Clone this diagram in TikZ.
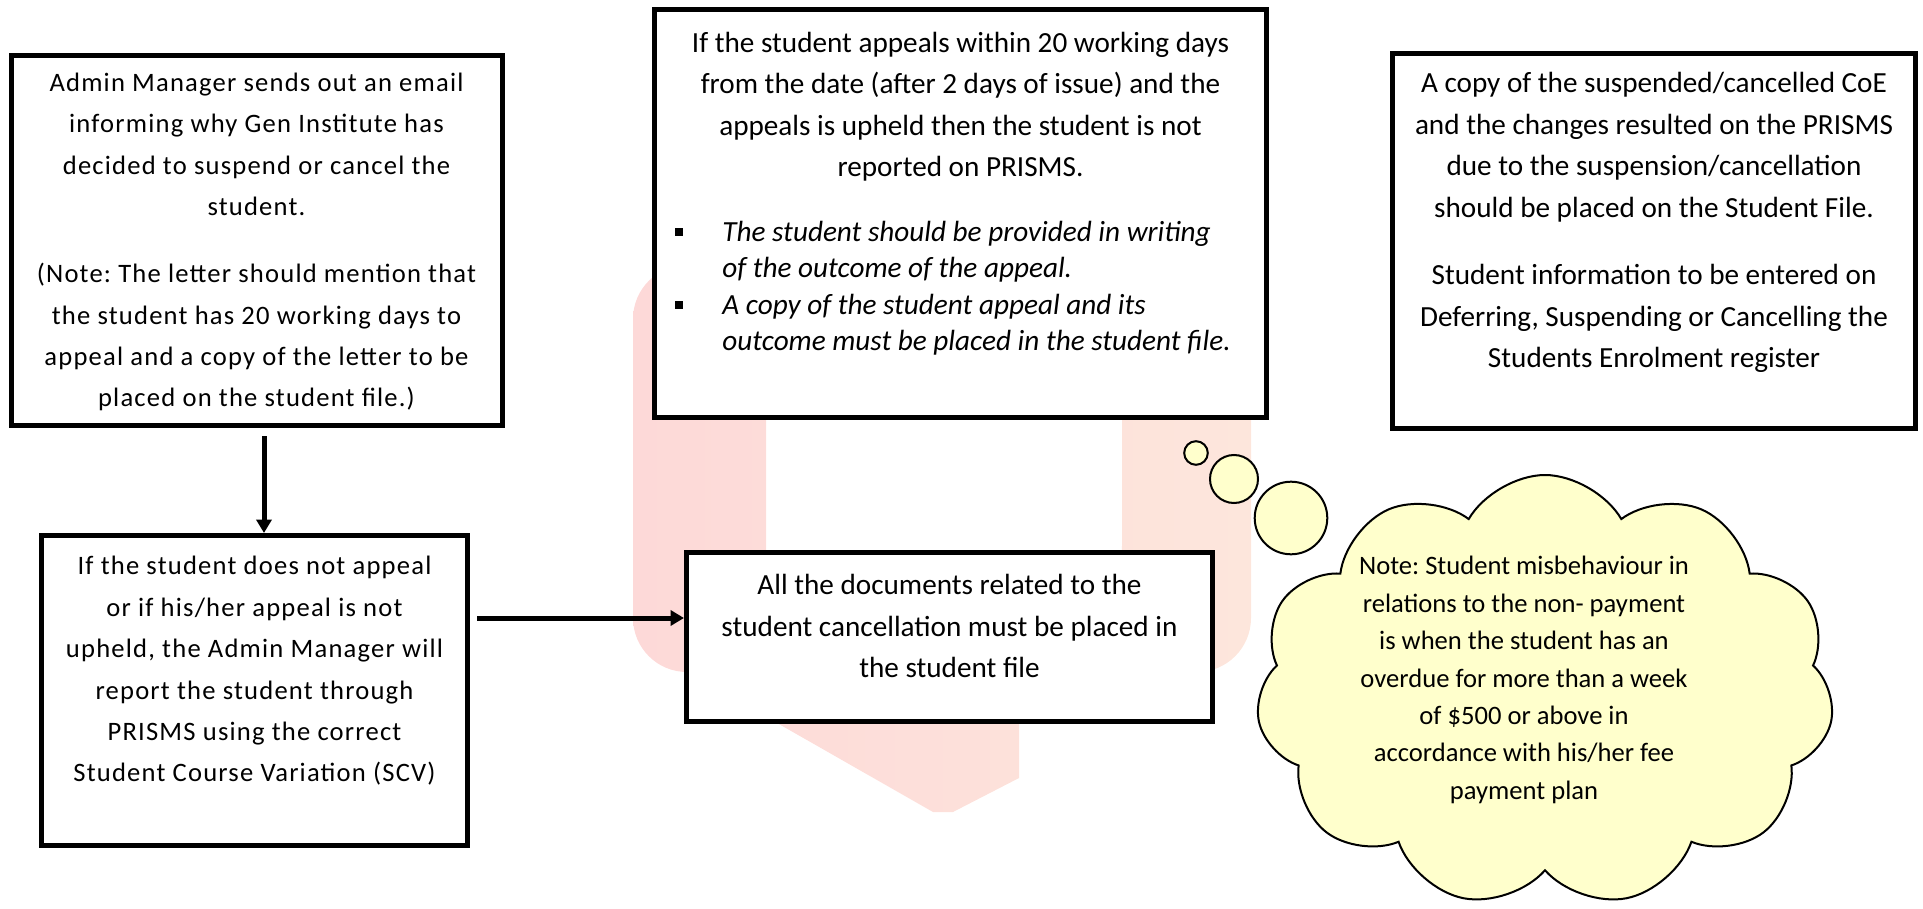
\documentclass[tikz,border=0pt]{standalone}
\usepackage{fontspec}
\setmainfont{Carlito}
\newfontfamily\spacedfont[LetterSpace=4.5]{Carlito}
\usetikzlibrary{positioning,shapes.symbols,arrows.meta}
\definecolor{noteYellow}{RGB}{255,255,204}
\definecolor{bandPink}{RGB}{253,217,216}
\definecolor{bandPeach}{RGB}{253,230,220}
\newcommand{\sqbullet}{\rule[0.18em]{4pt}{4pt}}
\frenchspacing

\begin{document}
\begin{tikzpicture}[x=0.5pt, y=-0.5pt,
    box/.style={draw=black, line width=2.5pt, fill=white, inner sep=0pt},
    bodytext/.style={align=center, inner sep=0pt, font=\fontsize{14.6}{20.8}\selectfont},
    spacedtext/.style={align=center, inner sep=0pt, font=\spacedfont\fontsize{13.3}{20.7}\selectfont},
    notetext/.style={align=center, inner sep=0pt, font=\fontsize{13.3}{18.7}\selectfont},
    flow/.style={line width=2.5pt, -{Triangle[length=6.7pt, width=7.5pt]}},
    bubble/.style={circle, draw=black, line width=1pt, fill=noteYellow, inner sep=0pt}]
    \useasboundingbox (0,0) rectangle (1923,909);

    % pale u-turn band behind the middle column
    \shade[left color=bandPink, right color=bandPeach, rounded corners=27pt]
      (633,265) -- (766,265) -- (766,600) -- (1122,600) -- (1122,265) -- (1251,265) -- (1251,672) -- (633,672) -- cycle
      [sharp corners] (686,671) -- (1019,671) -- (1019,778) -- (953,812) -- (933,812) -- cycle;

    \node[box, minimum width=245.5pt, minimum height=185pt] (A) at (256.5,240.5) {};
    \node[spacedtext, below=9.75pt of A.north] (Atext) {Admin Manager sends out an email\\ informing why Gen Institute has\\ decided to suspend or cancel the\\ student.\\[12.9pt] (Note: The letter should mention that\\ the student has 20 working days to\\ appeal and a copy of the letter to be\\ placed on the student file.)};

    \node[box, minimum width=213pt, minimum height=155pt] (B) at (254.5,690.5) {};
    \node[spacedtext, below=11.5pt of B.north] (Btext) {If the student does not appeal\\ or if his/her appeal is not\\ upheld, the Admin Manager will\\ report the student through\\ PRISMS using the correct\\ Student Course Variation (SCV)};

    \node[box, minimum width=306pt, minimum height=204pt] (C) at (960.5,213.5) {};
    \node[bodytext, below=12.2pt of C.north] (Ctext) {If the student appeals within 20 working days\\ from the date (after 2 days of issue) and the\\ appeals is upheld then the student is not\\ reported on PRISMS.};
    \node[inner sep=0pt, anchor=north west, font=\fontsize{14.6}{18.3}\selectfont\itshape] (Clist) at (675,215) {%
      \begin{tabular}{@{}p{23.5pt}@{}l@{}}
        \sqbullet & The student should be provided in writing\\
                  & of the outcome of the appeal.\\
        \sqbullet & A copy of the student appeal and its\\
                  & outcome must be placed in the student file.
      \end{tabular}};

    \node[box, minimum width=263pt, minimum height=84.5pt] (D) at (949.5,637) {};
    \node[bodytext, below=11.9pt of D.north] (Dtext) {All the documents related to the\\ student cancellation must be placed in\\ the student file};

    \node[box, minimum width=261.5pt, minimum height=187pt] (E) at (1654,241) {};
    \node[bodytext, below=10.2pt of E.north] (Etext) {A copy of the suspended/cancelled CoE\\ and the changes resulted on the PRISMS\\ due to the suspension/cancellation\\ should be placed on the Student File.\\[12.9pt] Student information to be entered on\\ Deferring, Suspending or Cancelling the\\ Students Enrolment register};

    % arrows
    \coordinate (abx) at (264,0);
    \coordinate (bdy) at (0,618);
    \draw[flow, shorten <=4pt] (A.south -| abx) -- (B.north -| abx);
    \draw[flow, shorten <=3.5pt] (B.east |- bdy) -- (D.west |- bdy);

    % thought cloud
    \node[cloud, cloud puffs=11, cloud puff arc=120, aspect=1.33, draw=black, line width=1pt, fill=noteYellow, minimum width=289pt, minimum height=216pt, inner sep=0pt] (note) at (1545,691) {};
    \node[notetext] (notetext) at (1524,680) {Note: Student misbehaviour in\\ relations to the non- payment\\ is when the student has an\\ overdue for more than a week\\ of \$500 or above in\\ accordance with his/her fee\\ payment plan};
    \node[bubble, minimum size=11.8pt] (b1) at (1196,453) {};
    \node[bubble, minimum size=24pt] (b2) at (1234,479) {};
    \node[bubble, minimum size=36.3pt] (b3) at (1291,518) {};
\end{tikzpicture}
\end{document}
